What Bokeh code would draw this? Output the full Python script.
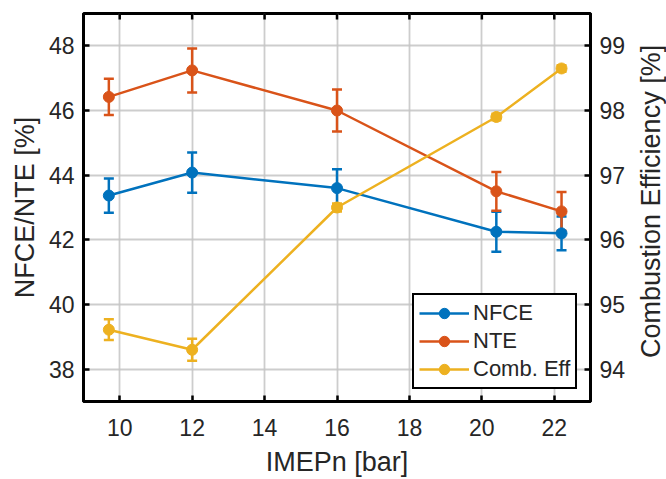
import math
from bokeh.plotting import figure
from bokeh.layouts import row
from bokeh.models import (ColumnDataSource, Range1d, LinearAxis, FixedTicker, Whisker,
                          TeeHead, Legend, LegendItem, Label)
from bokeh.embed import file_html
from bokeh.resources import INLINE

# ---- data ----
imep = [9.7, 12.0, 16.0, 20.4, 22.2]
nfce = [43.37, 44.08, 43.60, 42.25, 42.20]
nfce_err = [0.53, 0.62, 0.58, 0.62, 0.52]
nte = [46.42, 47.24, 46.00, 43.50, 42.88]
nte_err = [0.56, 0.68, 0.65, 0.60, 0.60]
comb_eff = [94.61, 94.30, 96.50, 97.90, 98.65]
comb_err = [0.16, 0.17, 0.06, 0.05, 0.05]

x_ticks = [10, 12, 14, 16, 18, 20, 22]
y_ticks = [38, 40, 42, 44, 46, 48]
y2_ticks = [94, 95, 96, 97, 98, 99]
x_min, x_max = 9, 23
y_min, y_max = 37, 49

BLUE = "#0072BD"
ORANGE = "#D95319"
YELLOW = "#EDB120"
TXT = "#262626"
FONT = "Liberation Sans"

p = figure(width=636, height=479, output_backend="svg", toolbar_location=None,
           x_range=Range1d(x_min, x_max), y_range=Range1d(y_min, y_max),
           min_border_left=83, min_border_right=46, min_border_top=13, min_border_bottom=76)
p.extra_y_ranges = {"right": Range1d(93.5, 99.5)}

p.outline_line_color = "black"
p.outline_line_width = 3
p.outline_line_alpha = 1
p.background_fill_color = "white"
p.border_fill_color = "white"

def style_axis(ax):
    ax.axis_line_width = 3
    ax.axis_line_color = "black"
    ax.major_tick_in = 6
    ax.major_tick_out = 0
    ax.major_tick_line_width = 2.5
    ax.major_tick_line_color = "black"
    ax.minor_tick_line_color = None
    ax.major_label_text_font = FONT
    ax.major_label_text_font_size = "23px"
    ax.major_label_text_color = TXT
    ax.axis_label_text_font = FONT
    ax.axis_label_text_font_size = "27px"
    ax.axis_label_text_font_style = "normal"
    ax.axis_label_text_color = TXT

xa = p.xaxis[0]
xa.ticker = FixedTicker(ticks=x_ticks)
xa.axis_label = "IMEPn [bar]"
style_axis(xa)
xa.major_label_standoff = 17
xa.axis_label_standoff = 8

ya = p.yaxis[0]
ya.ticker = FixedTicker(ticks=y_ticks)
ya.axis_label = "NFCE/NTE [%]"
style_axis(ya)
ya.major_label_standoff = 9
ya.axis_label_standoff = 6

ra = LinearAxis(y_range_name="right", ticker=FixedTicker(ticks=y2_ticks))
style_axis(ra)
ra.major_label_standoff = 9
p.add_layout(ra, "right")

# tick marks on the top edge of the box
p.scatter(x=x_ticks, y=[y_max] * len(x_ticks), marker="dash", angle=math.pi / 2,
          size=12, line_color="black", line_width=2.5)

p.xgrid.ticker = FixedTicker(ticks=x_ticks)
p.ygrid.ticker = FixedTicker(ticks=y_ticks)
for g in (p.xgrid[0], p.ygrid[0]):
    g.grid_line_color = "#c4c4c4"
    g.grid_line_width = 1.8
    g.grid_line_alpha = 0.85

def series(y, err, color, range_name="default"):
    src = ColumnDataSource(dict(x=imep, y=y,
                                lo=[a - b for a, b in zip(y, err)],
                                hi=[a + b for a, b in zip(y, err)]))
    w = Whisker(source=src, base="x", lower="lo", upper="hi",
                line_color=color, line_width=2.5,
                upper_head=TeeHead(size=10, line_color=color, line_width=2.5),
                lower_head=TeeHead(size=10, line_color=color, line_width=2.5),
                y_range_name=range_name)
    p.add_layout(w)
    ln = p.line("x", "y", source=src, line_color=color, line_width=2.5, y_range_name=range_name)
    sc = p.scatter("x", "y", source=src, size=11, marker="circle", fill_color=color,
                   line_color=color, y_range_name=range_name)
    return [ln, sc]

r1 = series(nfce, nfce_err, BLUE)
r2 = series(nte, nte_err, ORANGE)
r3 = series(comb_eff, comb_err, YELLOW, "right")

legend = Legend(items=[LegendItem(label="NFCE", renderers=r1),
                       LegendItem(label="NTE", renderers=r2),
                       LegendItem(label="Comb. Eff", renderers=r3)],
                location=(329, 12))
legend.border_line_color = "black"
legend.border_line_width = 2.5
legend.border_line_alpha = 1
legend.background_fill_color = "white"
legend.background_fill_alpha = 1
legend.label_text_font = FONT
legend.label_text_font_size = "22px"
legend.label_text_color = TXT
legend.padding = 5
legend.spacing = 2
legend.glyph_width = 50
legend.glyph_height = 26
legend.label_height = 26
legend.label_standoff = 4
legend.margin = 0
p.add_layout(legend, "center")

# narrow strip holding the right-axis title, reading bottom to top
p2 = figure(width=30, height=479, output_backend="svg", toolbar_location=None,
            x_range=Range1d(0, 30), y_range=Range1d(0, 479),
            x_axis_type=None, y_axis_type=None,
            min_border_left=0, min_border_right=0, min_border_top=0, min_border_bottom=0)
p2.outline_line_color = None
p2.grid.visible = False
p2.border_fill_color = "white"
p2.add_layout(Label(x=14.5, y=247, text="Combustion Efficiency [%]",
                    angle=math.pi / 2, text_align="center", text_baseline="middle",
                    text_font=FONT, text_font_size="27px", text_color=TXT))

open("out.html", "w").write(file_html(row(p, p2), INLINE))
